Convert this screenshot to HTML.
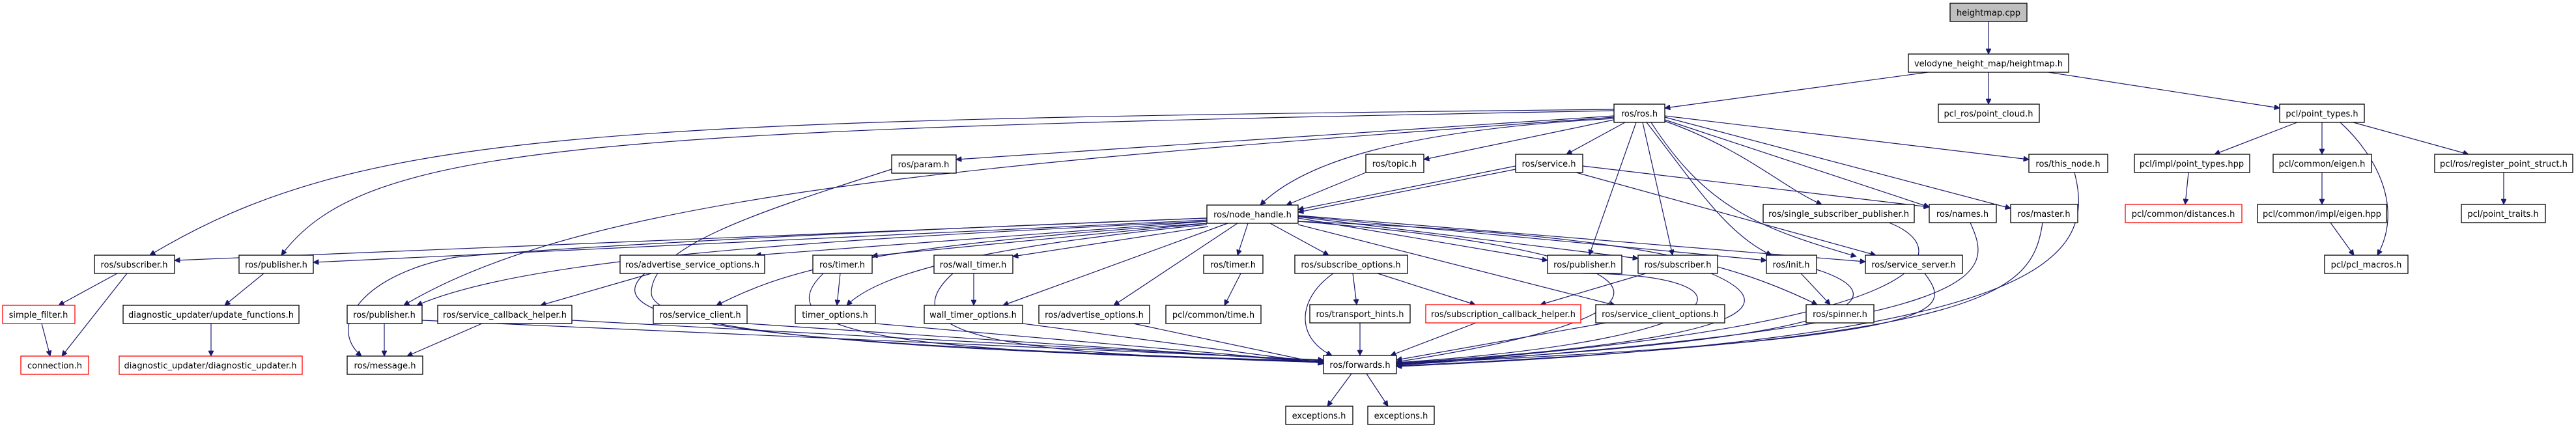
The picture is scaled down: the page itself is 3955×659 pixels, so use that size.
<!DOCTYPE html>
<html><head><meta charset="utf-8"><style>
html,body{margin:0;padding:0;background:#fff;}
svg{display:block;}
text{font-family:"DejaVu Sans","Liberation Sans",sans-serif;font-size:13px;fill:#000;}
.b{fill:#fff;stroke:#000;stroke-width:1.3;}
.r{fill:#fff;stroke:#ff0000;stroke-width:1.3;}
.e{fill:none;stroke:#191970;stroke-width:1.2;marker-end:url(#a);}
</style></head><body>
<svg width="3955" height="659" viewBox="0 0 3955 659" xmlns="http://www.w3.org/2000/svg">
<defs><marker id="a" viewBox="0 0 10 10" refX="10" refY="5" markerWidth="10" markerHeight="8" markerUnits="userSpaceOnUse" orient="auto"><path d="M0,0 L10,5 L0,10 z" fill="#191970" stroke="#191970"/></marker></defs>
<g>
<path class="e" d="M3053,33 L3053,83"/>
<path class="e" d="M2960,111 L2556,166"/>
<path class="e" d="M3053,111 L3053,160"/>
<path class="e" d="M3145,111 L3500,166"/>
<path class="e" d="M3527,188 L3400,237"/>
<path class="e" d="M3565,188 L3565,237"/>
<path class="e" d="M3593,188 C3650,240 3690,320 3650,392"/>
<path class="e" d="M3613,188 L3790,237"/>
<path class="e" d="M3360,265 L3355,314"/>
<path class="e" d="M3565,265 L3565,314"/>
<path class="e" d="M3578,342 L3614,392"/>
<path class="e" d="M3844,265 L3844,314"/>
<path class="e" d="M2478,168 C900,185 550,200 230,392"/>
<path class="e" d="M2478,170 C900,200 560,220 432,392"/>
<path class="e" d="M2478,178 L1468,245"/>
<path class="e" d="M2478,182 C2150,200 2000,250 1935,315"/>
<path class="e" d="M2478,184 L2186,245"/>
<path class="e" d="M2495,188 L2405,237"/>
<path class="e" d="M2512,188 L2440,392"/>
<path class="e" d="M2522,188 L2568,392"/>
<path class="e" d="M2528,188 C2600,280 2650,360 2720,392"/>
<path class="e" d="M2535,188 C2620,320 2700,350 2850,394"/>
<path class="e" d="M2556,186 C2680,230 2740,290 2797,314"/>
<path class="e" d="M2556,184 L2962,318"/>
<path class="e" d="M2556,180 L3087,320"/>
<path class="e" d="M2556,178 L3115,245"/>
<path class="e" d="M2478,180 C1500,250 900,300 620,469"/>
<path class="e" d="M1853,335 C1200,360 800,385 700,395 C560,420 500,500 555,547"/>
<path class="e" d="M1853,335 L268,400"/>
<path class="e" d="M1853,338 L481,403"/>
<path class="e" d="M1853,340 C1200,370 800,400 640,469"/>
<path class="e" d="M1853,340 L1160,392"/>
<path class="e" d="M1853,343 C1300,380 1200,420 1100,469"/>
<path class="e" d="M1853,343 L1339,393"/>
<path class="e" d="M1853,345 C1500,380 1350,420 1300,469"/>
<path class="e" d="M1855,348 L1555,394"/>
<path class="e" d="M1885,343 L1540,469"/>
<path class="e" d="M1900,343 L1710,469"/>
<path class="e" d="M1916,343 L1900,392"/>
<path class="e" d="M1950,343 L2040,392"/>
<path class="e" d="M1993,335 L2376,400"/>
<path class="e" d="M1993,333 L2515,397"/>
<path class="e" d="M1993,332 L2712,400"/>
<path class="e" d="M1993,331 L2864,402"/>
<path class="e" d="M1993,340 C2500,360 2650,400 2790,468"/>
<path class="e" d="M1993,345 L2480,469"/>
<path class="e" d="M1993,340 C2500,380 2700,470 2144,556"/>
<path class="e" d="M2097,265 L1975,315"/>
<path class="e" d="M2327,255 L1993,322"/>
<path class="e" d="M2327,260 L1993,326"/>
<path class="e" d="M2430,255 L2962,318"/>
<path class="e" d="M2420,265 L2880,392"/>
<path class="e" d="M1369,260 C1150,330 1000,380 1000,450 C1000,520 1500,540 2032,556"/>
<path class="e" d="M180,420 L90,469"/>
<path class="e" d="M195,420 L95,547"/>
<path class="e" d="M64,497 L77,547"/>
<path class="e" d="M405,420 L345,469"/>
<path class="e" d="M324,497 L324,547"/>
<path class="e" d="M590,497 L590,547"/>
<path class="e" d="M648,492 L2032,553"/>
<path class="e" d="M740,497 L625,547"/>
<path class="e" d="M878,492 L2032,554"/>
<path class="e" d="M1000,420 L830,469"/>
<path class="e" d="M990,420 C900,500 1200,530 2032,555"/>
<path class="e" d="M1290,420 L1285,469"/>
<path class="e" d="M1264,420 C1150,530 1500,540 2032,556"/>
<path class="e" d="M1495,420 L1495,469"/>
<path class="e" d="M1463,420 C1330,540 1700,545 2032,557"/>
<path class="e" d="M1147,497 L2032,556"/>
<path class="e" d="M1344,497 L2032,557"/>
<path class="e" d="M1570,497 L2032,558"/>
<path class="e" d="M1740,497 L2032,559"/>
<path class="e" d="M1905,420 L1880,469"/>
<path class="e" d="M2077,420 L2083,468"/>
<path class="e" d="M2115,420 L2265,468"/>
<path class="e" d="M2047,420 C1990,460 1990,520 2045,546"/>
<path class="e" d="M2088,496 L2088,546"/>
<path class="e" d="M2266,496 L2135,546"/>
<path class="e" d="M2465,496 L2144,553"/>
<path class="e" d="M2527,420 L2365,468"/>
<path class="e" d="M2627,420 C2720,460 2750,520 2144,558"/>
<path class="e" d="M2430,420 C2700,420 2700,520 2144,557"/>
<path class="e" d="M2765,420 L2810,468"/>
<path class="e" d="M2789,414 C2900,450 2920,520 2144,558"/>
<path class="e" d="M2955,420 C3000,480 3000,520 2144,559"/>
<path class="e" d="M2900,342 C3000,380 3010,500 2144,560"/>
<path class="e" d="M3025,342 C3060,420 3080,500 2144,561"/>
<path class="e" d="M3136,342 C3120,450 3060,520 2144,562"/>
<path class="e" d="M3185,265 C3220,400 3140,520 2144,563"/>
<path class="e" d="M2075,574 L2038,624"/>
<path class="e" d="M2098,574 L2131,624"/>
</g>
<g>
<rect x="2994" y="5" width="118" height="28" fill="#bfbfbf" stroke="#000" stroke-width="1.3"/><text x="3053" y="24" text-anchor="middle">heightmap.cpp</text>
<rect class="b" x="2930" y="83" width="246" height="28"/><text x="3053" y="102" text-anchor="middle" textLength="228" lengthAdjust="spacingAndGlyphs">velodyne_height_map/heightmap.h</text>
<rect class="b" x="2478" y="160" width="78" height="28"/><text x="2517" y="179" text-anchor="middle">ros/ros.h</text>
<rect class="b" x="2976" y="160" width="155" height="28"/><text x="3053" y="179" text-anchor="middle">pcl_ros/point_cloud.h</text>
<rect class="b" x="3500" y="160" width="130" height="28"/><text x="3565" y="179" text-anchor="middle">pcl/point_types.h</text>
<rect class="b" x="1369" y="238" width="99" height="28"/><text x="1418" y="257" text-anchor="middle">ros/param.h</text>
<rect class="b" x="2097" y="237" width="89" height="28"/><text x="2141" y="256" text-anchor="middle">ros/topic.h</text>
<rect class="b" x="2327" y="237" width="103" height="28"/><text x="2378" y="256" text-anchor="middle">ros/service.h</text>
<rect class="b" x="3115" y="237" width="121" height="28"/><text x="3175" y="256" text-anchor="middle">ros/this_node.h</text>
<rect class="b" x="3277" y="237" width="177" height="28"/><text x="3365" y="256" text-anchor="middle">pcl/impl/point_types.hpp</text>
<rect class="b" x="3490" y="237" width="151" height="28"/><text x="3565" y="256" text-anchor="middle">pcl/common/eigen.h</text>
<rect class="b" x="3738" y="237" width="212" height="28"/><text x="3844" y="256" text-anchor="middle" textLength="196" lengthAdjust="spacingAndGlyphs">pcl/ros/register_point_struct.h</text>
<rect class="b" x="1853" y="315" width="140" height="28"/><text x="1923" y="334" text-anchor="middle">ros/node_handle.h</text>
<rect class="b" x="2707" y="314" width="232" height="28"/><text x="2823" y="333" text-anchor="middle" textLength="216" lengthAdjust="spacingAndGlyphs">ros/single_subscriber_publisher.h</text>
<rect class="b" x="2962" y="314" width="103" height="28"/><text x="3013" y="333" text-anchor="middle">ros/names.h</text>
<rect class="b" x="3087" y="314" width="103" height="28"/><text x="3138" y="333" text-anchor="middle">ros/master.h</text>
<rect class="r" x="3263" y="314" width="179" height="28"/><text x="3352" y="333" text-anchor="middle">pcl/common/distances.h</text>
<rect class="b" x="3466" y="314" width="198" height="28"/><text x="3565" y="333" text-anchor="middle">pcl/common/impl/eigen.hpp</text>
<rect class="b" x="3779" y="314" width="129" height="28"/><text x="3843" y="333" text-anchor="middle">pcl/point_traits.h</text>
<rect class="b" x="145" y="392" width="123" height="28"/><text x="206" y="411" text-anchor="middle">ros/subscriber.h</text>
<rect class="b" x="367" y="392" width="114" height="28"/><text x="424" y="411" text-anchor="middle">ros/publisher.h</text>
<rect class="b" x="952" y="392" width="222" height="28"/><text x="1063" y="411" text-anchor="middle" textLength="206" lengthAdjust="spacingAndGlyphs">ros/advertise_service_options.h</text>
<rect class="b" x="1248" y="392" width="91" height="28"/><text x="1293" y="411" text-anchor="middle">ros/timer.h</text>
<rect class="b" x="1434" y="392" width="121" height="28"/><text x="1494" y="411" text-anchor="middle">ros/wall_timer.h</text>
<rect class="b" x="1848" y="392" width="91" height="28"/><text x="1893" y="411" text-anchor="middle">ros/timer.h</text>
<rect class="b" x="1988" y="392" width="173" height="28"/><text x="2074" y="411" text-anchor="middle">ros/subscribe_options.h</text>
<rect class="b" x="2376" y="392" width="114" height="28"/><text x="2433" y="411" text-anchor="middle">ros/publisher.h</text>
<rect class="b" x="2515" y="392" width="122" height="28"/><text x="2576" y="411" text-anchor="middle">ros/subscriber.h</text>
<rect class="b" x="2712" y="392" width="77" height="28"/><text x="2750" y="411" text-anchor="middle">ros/init.h</text>
<rect class="b" x="2864" y="392" width="149" height="28"/><text x="2938" y="411" text-anchor="middle">ros/service_server.h</text>
<rect class="b" x="3569" y="392" width="128" height="28"/><text x="3633" y="411" text-anchor="middle">pcl/pcl_macros.h</text>
<rect class="r" x="4" y="469" width="111" height="28"/><text x="59" y="488" text-anchor="middle">simple_filter.h</text>
<rect class="b" x="189" y="469" width="270" height="28"/><text x="324" y="488" text-anchor="middle" textLength="254" lengthAdjust="spacingAndGlyphs">diagnostic_updater/update_functions.h</text>
<rect class="b" x="533" y="469" width="115" height="28"/><text x="590" y="488" text-anchor="middle">ros/publisher.h</text>
<rect class="b" x="672" y="469" width="206" height="28"/><text x="775" y="488" text-anchor="middle" textLength="190" lengthAdjust="spacingAndGlyphs">ros/service_callback_helper.h</text>
<rect class="b" x="1003" y="469" width="144" height="28"/><text x="1075" y="488" text-anchor="middle">ros/service_client.h</text>
<rect class="b" x="1221" y="469" width="123" height="28"/><text x="1282" y="488" text-anchor="middle">timer_options.h</text>
<rect class="b" x="1419" y="469" width="151" height="28"/><text x="1494" y="488" text-anchor="middle">wall_timer_options.h</text>
<rect class="b" x="1595" y="469" width="170" height="28"/><text x="1680" y="488" text-anchor="middle">ros/advertise_options.h</text>
<rect class="b" x="1790" y="469" width="146" height="28"/><text x="1863" y="488" text-anchor="middle">pcl/common/time.h</text>
<rect class="b" x="2011" y="468" width="154" height="28"/><text x="2088" y="487" text-anchor="middle">ros/transport_hints.h</text>
<rect class="r" x="2189" y="468" width="238" height="28"/><text x="2308" y="487" text-anchor="middle" textLength="222" lengthAdjust="spacingAndGlyphs">ros/subscription_callback_helper.h</text>
<rect class="b" x="2450" y="468" width="198" height="28"/><text x="2549" y="487" text-anchor="middle">ros/service_client_options.h</text>
<rect class="b" x="2773" y="468" width="104" height="28"/><text x="2825" y="487" text-anchor="middle">ros/spinner.h</text>
<rect class="r" x="32" y="547" width="104" height="28"/><text x="84" y="566" text-anchor="middle">connection.h</text>
<rect class="r" x="183" y="547" width="281" height="28"/><text x="323" y="566" text-anchor="middle" textLength="265" lengthAdjust="spacingAndGlyphs">diagnostic_updater/diagnostic_updater.h</text>
<rect class="b" x="533" y="547" width="116" height="28"/><text x="591" y="566" text-anchor="middle">ros/message.h</text>
<rect class="b" x="2032" y="546" width="112" height="28"/><text x="2088" y="565" text-anchor="middle">ros/forwards.h</text>
<rect class="b" x="1974" y="624" width="103" height="28"/><text x="2025" y="643" text-anchor="middle">exceptions.h</text>
<rect class="b" x="2100" y="624" width="102" height="28"/><text x="2151" y="643" text-anchor="middle">exceptions.h</text>
</g>
</svg>
</body></html>
